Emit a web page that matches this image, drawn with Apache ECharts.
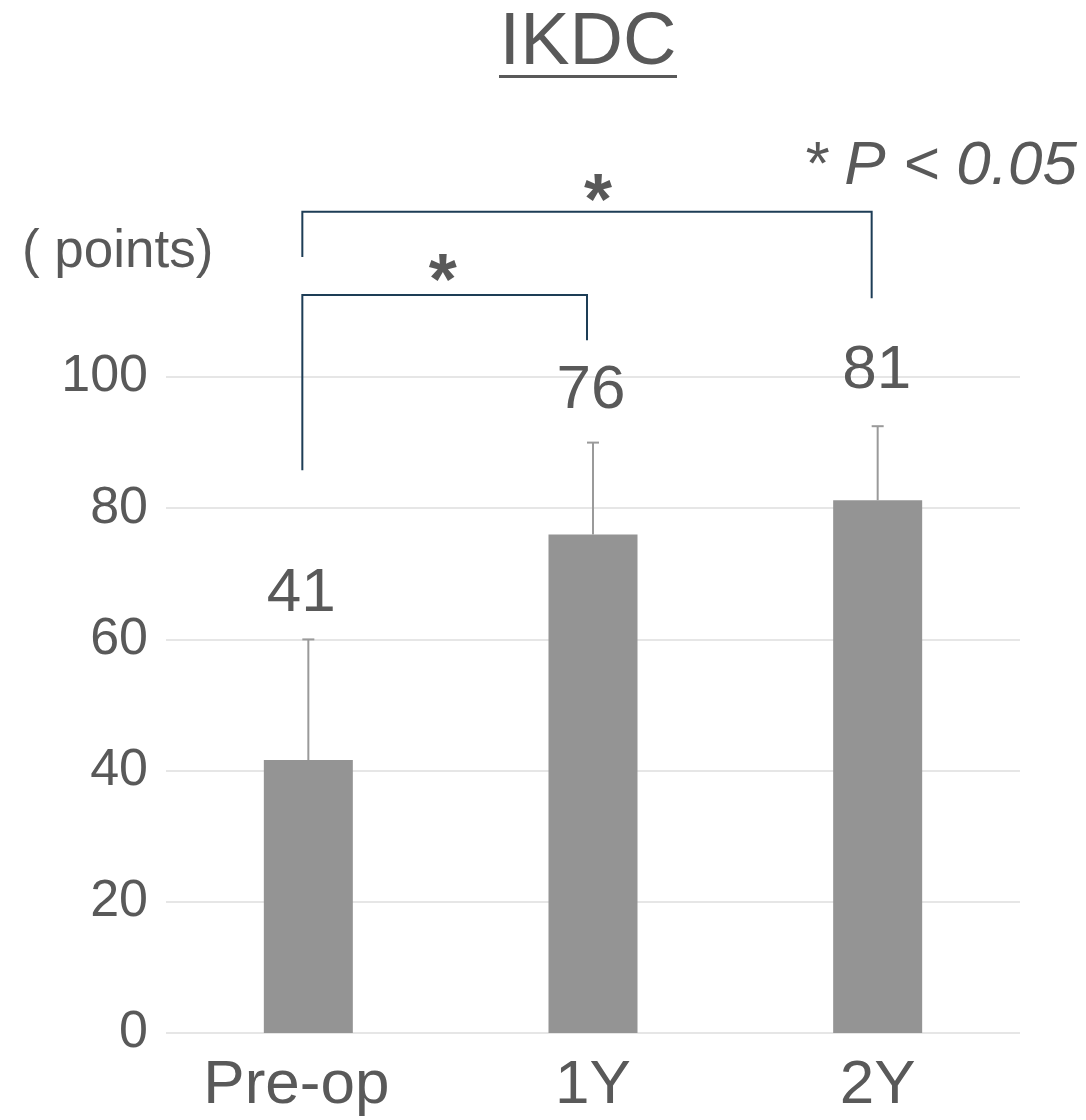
<!DOCTYPE html>
<html>
<head>
<meta charset="utf-8">
<script src="https://cdn.jsdelivr.net/npm/echarts@6/dist/echarts.min.js"></script>
<style>
  html, body { margin: 0; padding: 0; background: #ffffff; }
  #chart { width: 1086px; height: 1120px; }
</style>
</head>
<body>
<div id="chart"></div>
<script>
// ---- data ----
const categories = ['Pre-op', '1Y', '2Y'];
const means = [41.6, 76.0, 81.2];
const sds = [18.4, 14.0, 11.3];
const valueLabels = ['41', '76', '81'];
const yTicks = [0, 20, 40, 60, 80, 100];
// significance brackets: [fromIndex, toIndex, level, leftEnd, rightEnd]
const bracketFrom = [0, 0];
const bracketTo = [1, 2];
const bracketLevel = [112.5, 125.2];
const bracketLeftEnd = [85.8, 118.3];
const bracketRightEnd = [105.6, 112.0];
const bracketMark = ['*', '*'];

const FONT = "'Liberation Sans', Arial, sans-serif";
const TXT = '#595959';

// label fine placement (style only)
const labelDx = [-7, -2, -1];
const labelLift = [0, 7, 10];
const starDx = [-2, 11];
const starLift = [5, 2];

const chart = echarts.init(document.getElementById('chart'), null, { renderer: 'canvas' });

const errData = categories.map((c, i) => [i, means[i], sds[i]]);
const brData = bracketFrom.map((f, i) => [f, bracketTo[i], bracketLevel[i], bracketLeftEnd[i], bracketRightEnd[i]]);

const option = {
  backgroundColor: '#ffffff',
  animation: false,
  grid: { left: 166, right: 66, top: 377, bottom: 87, containLabel: false },
  xAxis: {
    type: 'category',
    data: categories,
    axisLine: { show: false },
    axisTick: { show: false },
    axisLabel: {
      interval: 0,
      hideOverlap: false,
      color: TXT, fontSize: 62, fontFamily: FONT, margin: 22,
      formatter: function (v, idx) { return idx === 0 ? '{a|' + v + '}' : v; },
      rich: { a: { color: TXT, fontSize: 62, fontFamily: FONT, padding: [0, 24, 0, 0] } }
    }
  },
  yAxis: {
    type: 'value',
    min: yTicks[0],
    max: yTicks[yTicks.length - 1],
    interval: 20,
    axisLine: { show: false },
    axisTick: { show: false },
    axisLabel: { color: TXT, fontSize: 52, fontFamily: FONT, margin: 18 },
    splitLine: { lineStyle: { color: '#dedede', width: 1.5 } }
  },
  series: [
    {
      type: 'bar',
      data: means,
      barWidth: 89,
      itemStyle: { color: '#949494' },
      z: 2
    },
    {
      type: 'custom',
      data: errData,
      clip: false,
      z: 3,
      renderItem: function (params, api) {
        const i = api.value(0);
        const m = api.value(1), s = api.value(2);
        const base = api.coord([i, m]);
        const top = api.coord([i, m + s]);
        const half = 6;
        const k = params.dataIndex;
        const st = { stroke: '#9a9a9a', lineWidth: 2 };
        return {
          type: 'group',
          children: [
            { type: 'line', shape: { x1: top[0], y1: base[1], x2: top[0], y2: top[1] }, style: st },
            { type: 'line', shape: { x1: top[0] - half, y1: top[1], x2: top[0] + half, y2: top[1] }, style: st },
            { type: 'text', x: top[0] + labelDx[k], y: top[1] - 14 - labelLift[k],
              style: { text: valueLabels[k], fill: TXT, font: '62px ' + FONT, align: 'center', verticalAlign: 'bottom' } }
          ]
        };
      }
    },
    {
      type: 'custom',
      data: brData,
      clip: false,
      z: 4,
      renderItem: function (params, api) {
        const dx = -6;
        const k = params.dataIndex;
        const from = api.value(0), to = api.value(1);
        const lvl = api.value(2), le = api.value(3), re = api.value(4);
        const pL = api.coord([from, lvl]);
        const pR = api.coord([to, lvl]);
        const pLe = api.coord([from, le]);
        const pRe = api.coord([to, re]);
        const x1 = pL[0] + dx, x2 = pR[0] + dx, y = pL[1];
        const st = { stroke: '#1d3d56', lineWidth: 2, fill: null };
        return {
          type: 'group',
          children: [
            { type: 'polyline', shape: { points: [[x1, pLe[1]], [x1, y], [x2, y], [x2, pRe[1]]] }, style: st },
            { type: 'text', x: (x1 + x2) / 2 + starDx[k], y: y - 6 - starLift[k],
              style: { text: bracketMark[k], fill: TXT, font: 'bold 72px ' + FONT, align: 'center', verticalAlign: 'middle' } }
          ]
        };
      }
    }
  ],
  graphic: [
    { type: 'text', x: 588, y: 44,
      style: { text: 'IKDC', fill: TXT, font: '74px ' + FONT, align: 'center', verticalAlign: 'middle' } },
    { type: 'rect', shape: { x: 499, y: 75, width: 178, height: 3 }, style: { fill: TXT } },
    { type: 'text', x: 1077, y: 167,
      style: { text: '* P < 0.05', fill: TXT, font: 'italic 62px ' + FONT, align: 'right', verticalAlign: 'middle' } },
    { type: 'text', x: 22, y: 252,
      style: { text: '( points)', fill: TXT, font: '53px ' + FONT, align: 'left', verticalAlign: 'middle' } }
  ]
};

chart.setOption(option);
</script>
</body>
</html>
